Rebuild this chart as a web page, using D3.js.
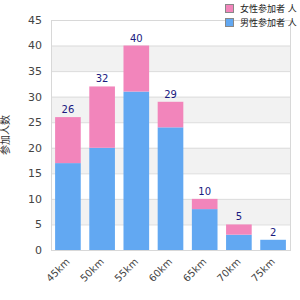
<!DOCTYPE html>
<html>
<head>
<meta charset="utf-8">
<script src="https://cdn.jsdelivr.net/npm/d3@7"></script>
<style>
body{margin:0;background:#fff;}
svg text{font-family:"DejaVu Sans","Noto Sans CJK SC",sans-serif;}
</style>
</head>
<body>
<div id="chart"></div>
<script>
var categories = ["45km","50km","55km","60km","65km","70km","75km"];
var blueValues = [17,20,31,24,8,3,2];
var pinkValues = [9,12,9,5,2,2,0];
var yTicks = [0,5,10,15,20,25,30,35,40,45];
var seriesNames = ["女性参加者 人","男性参加者 人"];
var yTitle = "参加人数";

var w = 300, h = 300;
var margin = {left:51, right:10, top:20, bottom:50};

var svg = d3.select("#chart")
  .append("svg")
  .attr("width", w)
  .attr("height", h);

var x = d3.scaleBand()
  .domain(categories)
  .range([margin.left, w - margin.right])
  .paddingInner(0.25)
  .paddingOuter(0.12);

var y = d3.scaleLinear()
  .domain([0,45])
  .range([h - margin.bottom, margin.top]);

// alternating bands
for(var i=0;i<yTicks.length-1;i++){
  if(i%2==1){
    svg.append("rect")
      .attr("x", margin.left)
      .attr("y", y(yTicks[i+1]))
      .attr("width", w - margin.right - margin.left)
      .attr("height", y(yTicks[i]) - y(yTicks[i+1]))
      .style("fill", "#f2f2f2");
  }
}

// gridlines
svg.selectAll(".grid")
  .data(yTicks.slice(1,-1))
  .enter()
  .append("line")
  .attr("class","grid")
  .attr("x1", margin.left)
  .attr("x2", w - margin.right)
  .attr("y1", function(d){return y(d)+0.5;})
  .attr("y2", function(d){return y(d)+0.5;})
  .style("stroke", "#dcdcdc");

// frame
svg.append("rect")
  .attr("x", margin.left+0.5)
  .attr("y", y(45)+0.5)
  .attr("width", w - margin.right - margin.left)
  .attr("height", y(0) - y(45))
  .style("fill", "none")
  .style("stroke", "#d8d8d8");

// y axis labels
svg.selectAll(".ylabel")
  .data(yTicks)
  .enter()
  .append("text")
  .attr("class","ylabel")
  .attr("x", margin.left - 9)
  .attr("y", function(d){return y(d);})
  .attr("dy", ".35em")
  .attr("text-anchor","end")
  .style("font-size","11px")
  .style("fill","#444")
  .text(String);

// y title
svg.append("text")
  .attr("transform", "translate(9," + ((y(0)+y(45))/2) + ") rotate(-90)")
  .attr("text-anchor","middle")
  .style("font-size","10px")
  .style("fill","#333")
  .text(yTitle);

// bars
svg.selectAll(".blue")
  .data(blueValues)
  .enter()
  .append("rect")
  .attr("class","blue")
  .attr("x", function(d,i){return x(categories[i]);})
  .attr("y", function(d){return y(d);})
  .attr("width", x.bandwidth())
  .attr("height", function(d){return y(0)-y(d);})
  .style("fill","#62a8f2");

svg.selectAll(".pink")
  .data(pinkValues)
  .enter()
  .append("rect")
  .attr("class","pink")
  .attr("x", function(d,i){return x(categories[i]);})
  .attr("y", function(d,i){return y(d+blueValues[i]);})
  .attr("width", x.bandwidth())
  .attr("height", function(d){return y(0)-y(d);})
  .style("fill","#f285bb");

// totals
svg.selectAll(".total")
  .data(blueValues)
  .enter()
  .append("text")
  .attr("class","total")
  .attr("x", function(d,i){return x(categories[i]) + x.bandwidth()/2;})
  .attr("y", function(d,i){return y(d+pinkValues[i]) - 4;})
  .attr("text-anchor","middle")
  .style("font-size","10px")
  .style("fill","#1a1a80")
  .text(function(d,i){return d+pinkValues[i];});

// x labels
svg.selectAll(".xlabel")
  .data(categories)
  .enter()
  .append("text")
  .attr("class","xlabel")
  .attr("transform", function(d){return "translate(" + (x(d)+x.bandwidth()/2) + "," + (y(0)+10) + ") rotate(-45)";})
  .attr("text-anchor","end")
  .attr("dy",".35em")
  .style("font-size","10px")
  .style("fill","#444")
  .text(String);

// legend
var legendColors = ["#f285bb","#62a8f2"];
var lg = svg.selectAll(".legend")
  .data(seriesNames)
  .enter()
  .append("g")
  .attr("class","legend")
  .attr("transform", function(d,i){return "translate(225," + (4+i*14) + ")";});
lg.append("rect")
  .attr("x",0.5).attr("y",0.5)
  .attr("width",8).attr("height",8)
  .style("fill", function(d,i){return legendColors[i];})
  .style("stroke","#888");
lg.append("text")
  .attr("x",15)
  .attr("y",4.5)
  .attr("dy",".35em")
  .style("font-size","9px")
  .style("fill","#222")
  .text(String);
</script>
</body>
</html>
